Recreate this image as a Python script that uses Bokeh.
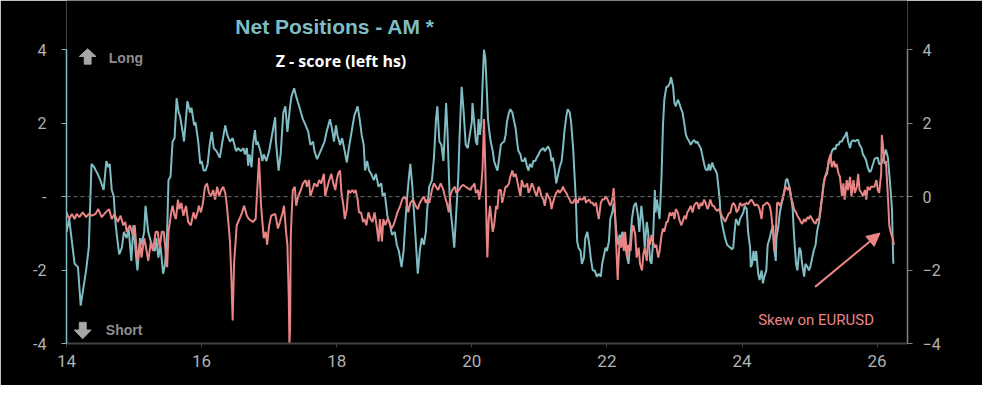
from bokeh.plotting import figure
from bokeh.models import Range1d, LinearAxis, FixedTicker, Span, Label, Arrow, NormalHead
from bokeh.embed import file_html
from bokeh.resources import INLINE

# ---------------- data ----------------
am_years = [14.00,14.04,14.12,14.17,14.21,14.29,14.33,14.37,14.41,14.46,14.50,14.55,14.59,14.62,14.64,14.67,14.70,14.72,14.75,14.78,14.82,14.85,14.89,14.92,14.96,14.99,15.04,15.05,15.09,15.11,15.15,15.17,15.21,15.26,15.31,15.33,15.36,15.39,15.43,15.46,15.49,15.51,15.54,15.57,15.60,15.63,15.66,15.68,15.72,15.74,15.79,15.83,15.85,15.89,15.91,15.95,15.98,16.00,16.03,16.06,16.09,16.12,16.15,16.18,16.22,16.27,16.30,16.35,16.38,16.42,16.46,16.51,16.54,16.58,16.62,16.64,16.67,16.69,16.71,16.74,16.76,16.79,16.81,16.83,16.87,16.90,16.92,16.96,17.00,17.05,17.09,
            17.10,17.14,17.17,17.21,17.24,17.27,17.31,17.33,17.37,17.40,17.43,17.47,17.50,17.54,17.58,17.61,17.65,17.67,17.71,17.74,17.78,17.82,17.85,17.90,17.93,17.96,17.99,18.01,18.05,18.08,18.11,18.15,18.18,18.22,18.26,18.31,18.34,18.37,18.40,18.42,18.45,18.48,18.51,18.55,18.58,18.62,18.66,18.68,18.71,18.75,18.79,18.82,18.86,18.89,18.92,18.96,18.99,19.01,19.04,19.07,19.09,19.12,19.15,19.18,19.20,19.23,19.26,19.29,19.32,19.34,19.37,19.41,19.44,19.47,19.49,19.52,19.55,19.58,19.62,19.64,19.67,19.69,19.71,19.74,19.77,19.80,19.82,19.85,19.88,19.91,19.94,19.97,20.00,
            20.01,20.04,20.06,20.08,20.10,20.12,20.14,20.16,20.18,20.20,20.22,20.24,20.26,20.28,20.31,20.33,20.36,20.38,20.40,20.43,20.45,20.48,20.50,20.52,20.55,20.57,20.60,20.62,20.65,20.67,20.69,20.72,20.74,20.77,20.79,20.82,20.84,20.86,20.89,20.91,20.94,20.96,20.99,21.01,21.03,21.06,21.08,21.11,21.13,21.16,21.18,21.20,21.23,21.25,21.28,21.30,21.33,21.35,21.37,21.40,21.42,21.45,21.47,21.50,21.52,21.54,21.56,21.58,21.61,21.63,21.66,21.68,21.71,21.74,21.76,21.79,21.82,21.85,21.88,21.91,21.93,21.96,21.98,22.00,22.03,22.05,22.08,22.10,22.12,22.14,22.16,22.19,22.21,22.23,22.25,22.27,22.30,22.32,22.35,22.37,22.40,22.43,22.46,22.48,22.51,22.54,22.56,22.59,22.61,22.64,22.66,22.68,22.71,22.72,22.74,22.76,22.78,22.81,22.83,22.85,22.88,22.90,22.93,22.95,22.98,23.00,23.02,23.05,23.07,23.10,
            23.12,23.15,23.17,23.19,23.22,23.24,23.27,23.29,23.32,23.34,23.36,23.39,23.41,23.44,23.46,23.49,23.51,23.53,23.56,23.58,23.61,23.63,23.65,23.67,23.68,23.70,23.73,23.75,23.78,23.80,23.83,23.85,23.87,23.89,23.91,23.93,23.95,23.97,23.995,24.02,24.04,24.07,24.09,24.12,24.13,24.15,24.17,24.19,24.21,24.24,24.26,24.29,24.31,24.33,24.36,24.38,24.41,24.43,24.46,24.48,24.50,24.51,24.54,24.56,24.58,24.60,24.63,24.65,24.67,24.70,24.72,24.75,24.77,24.80,24.82,24.85,24.87,24.89,24.92,24.94,24.97,24.99,25.01,25.04,25.06,25.09,25.11,25.14,25.16,25.19,25.21,25.23,25.26,25.28,25.31,25.33,25.36,25.38,25.40,25.43,25.45,25.48,25.50,25.52,25.55,25.57,25.60,25.62,25.65,25.67,25.70,25.72,25.74,25.77,25.79,25.82,25.84,25.86,25.89,25.91,25.94,25.96,25.99,26.01,26.03,26.06,26.08,26.11,26.13,26.16,26.18,26.20,26.22,26.23,26.24]
am_z = [-0.96,-0.61,-1.83,-1.92,-2.97,-2.01,-1.39,0.89,0.80,0.62,0.45,0.18,0.97,0.80,0.89,0.18,0.01,-0.61,-1.13,-1.57,-1.39,-0.96,-1.13,-0.87,-1.75,-0.78,-1.83,-2.01,-1.13,-1.31,-0.96,-0.25,-0.96,-1.31,-1.48,-1.13,-1.66,-1.31,-2.10,-1.83,-0.96,0.45,0.54,1.50,1.59,2.68,2.29,2.20,1.76,1.50,2.60,2.29,2.42,1.94,2.03,1.50,0.89,0.97,0.71,0.71,0.89,1.41,1.76,1.32,1.24,1.06,1.41,1.94,1.68,1.50,1.59,1.24,1.32,1.24,1.32,1.15,1.32,0.84,1.15,0.80,1.41,1.81,1.41,1.50,1.24,0.97,1.15,0.97,1.24,1.76,2.16,
        1.50,0.71,1.15,2.29,2.46,1.76,2.46,2.73,2.95,2.73,2.55,2.29,2.11,1.94,1.76,1.41,1.50,1.24,1.02,1.15,1.32,1.50,1.76,2.11,1.85,1.50,1.94,1.68,1.41,1.59,1.32,0.93,1.32,1.76,2.20,2.46,2.11,1.68,1.41,0.71,0.97,0.71,0.62,0.45,0.62,0.27,0.36,0.01,0.10,-0.52,-0.78,-1.04,-0.96,-1.31,-1.48,-1.92,-1.48,-0.87,-0.08,0.54,0.89,0.27,-0.61,-1.48,-2.10,-1.48,-1.13,-1.31,-0.96,-0.34,0.27,0.45,1.06,2.11,2.46,1.50,1.41,0.97,2.55,1.76,0.10,-0.43,-0.78,-1.39,-0.43,0.54,1.68,2.99,2.29,1.41,1.32,1.68,2.03,
        2.55,1.94,1.50,1.41,2.11,1.68,2.03,3.08,4.00,3.78,2.99,2.11,1.76,1.50,1.24,0.97,0.80,0.71,0.97,1.41,1.46,1.50,1.68,2.03,2.29,2.38,2.29,2.11,1.85,1.50,1.24,1.15,0.97,0.97,1.06,0.80,0.71,0.89,0.80,0.97,0.97,1.06,1.15,1.24,1.28,1.32,1.24,1.32,1.37,1.24,0.97,1.06,0.71,0.36,0.62,0.80,0.97,1.32,1.76,2.20,2.38,2.29,2.03,1.32,0.62,-0.08,-1.22,-1.39,-1.48,-1.83,-1.66,-1.13,-0.96,-1.31,-1.66,-2.01,-2.01,-2.18,-2.10,-2.18,-1.83,-1.57,-1.39,-1.48,-1.22,-0.61,-0.43,-0.17,-0.52,-0.96,-1.31,-1.04,-1.13,-0.96,-1.04,-1.31,-1.66,-1.83,-1.13,-0.61,-0.25,-0.17,-0.52,-0.96,-0.25,-0.78,-1.39,-0.69,-0.96,-1.75,-1.83,-1.31,0.18,-0.43,-0.08,-0.34,-0.61,0.62,1.94,2.64,2.99,2.99,3.08,3.25,2.99,2.55,2.46,2.64,2.55,2.38,
        2.29,1.94,1.68,1.59,1.50,1.41,1.50,1.54,1.46,1.50,1.41,1.32,1.15,0.89,0.75,0.71,0.89,0.71,0.93,0.80,0.71,0.62,0.27,-0.08,-0.43,-0.69,-0.96,-1.13,-1.31,-1.35,-1.39,-1.44,-1.39,-0.96,-0.61,-0.69,-0.78,-0.61,-0.52,-0.43,-0.25,-0.34,-0.96,-1.39,-1.92,-1.83,-1.48,-1.75,-1.48,-2.10,-2.27,-2.01,-2.36,-2.18,-2.01,-1.31,-1.13,-0.96,-0.78,-1.48,-1.75,-1.13,-0.78,-0.43,-0.25,-0.08,0.18,0.45,0.49,0.27,0.10,-0.34,-1.04,-1.83,-2.01,-1.39,-1.48,-1.83,-2.18,-1.83,-1.92,-2.01,-1.92,-1.66,-1.48,-1.31,-0.96,-0.69,-0.43,0.10,0.36,0.54,0.71,0.89,1.06,1.24,1.32,1.28,1.41,1.41,1.50,1.50,1.59,1.63,1.76,1.50,1.32,1.50,1.54,1.50,1.54,1.54,1.41,1.32,1.15,1.06,0.97,0.80,0.67,0.71,0.89,1.02,1.06,1.06,0.89,0.89,0.97,1.15,1.28,1.06,0.62,0.18,-0.34,-1.13,-1.83]

skew_years = [14.00,14.04,14.08,14.12,14.15,14.19,14.24,14.29,14.33,14.38,14.43,14.47,14.52,14.58,14.63,14.67,14.71,14.76,14.80,14.84,14.87,14.89,14.94,14.98,15.01,15.05,15.09,15.11,15.15,15.17,15.21,15.25,15.28,15.32,15.35,15.38,15.41,15.44,15.49,15.51,15.55,15.57,15.60,15.62,15.65,15.67,15.70,15.73,15.77,15.80,15.84,15.88,15.91,15.94,15.96,15.99,16.02,16.05,16.08,16.11,16.14,16.17,16.20,16.23,16.26,16.29,16.32,16.35,16.37,16.40,16.42,16.44,16.46,16.48,16.52,16.56,16.60,16.63,16.67,16.70,16.76,16.80,16.85,16.88,16.92,16.95,16.97,17.00,17.03,17.09,
              17.13,17.16,17.20,17.22,17.25,17.27,17.29,17.30,17.31,17.32,17.33,17.35,17.38,17.40,17.43,17.47,17.50,17.54,17.56,17.59,17.61,17.64,17.67,17.71,17.74,17.77,17.81,17.83,17.85,17.89,17.92,17.95,17.98,18.00,18.02,18.05,18.07,18.10,18.12,18.15,18.17,18.20,18.23,18.26,18.28,18.31,18.33,18.36,18.39,18.41,18.44,18.47,18.50,18.53,18.56,18.59,18.62,18.64,18.67,18.69,18.72,18.75,18.78,18.81,18.84,18.87,18.90,18.94,18.97,19.00,19.03,19.06,19.09,19.13,19.17,19.20,19.23,19.26,19.29,19.32,19.34,19.37,19.41,19.44,19.47,19.50,19.54,19.58,19.60,19.63,19.66,19.68,19.71,19.75,19.77,19.81,19.84,19.87,19.91,19.94,19.98,20.00,
              20.01,20.04,20.06,20.09,20.11,20.14,20.16,20.18,20.20,20.22,20.23,20.25,20.27,20.29,20.31,20.33,20.36,20.38,20.40,20.43,20.45,20.48,20.50,20.52,20.55,20.57,20.60,20.62,20.65,20.67,20.69,20.72,20.74,20.77,20.79,20.82,20.84,20.86,20.89,20.91,20.94,20.96,20.99,21.01,21.03,21.06,21.08,21.11,21.13,21.16,21.18,21.20,21.23,21.25,21.28,21.30,21.33,21.35,21.37,21.40,21.42,21.45,21.47,21.50,21.52,21.54,21.57,21.59,21.62,21.64,21.67,21.69,21.71,21.74,21.76,21.79,21.81,21.84,21.86,21.88,21.91,21.93,21.96,21.98,22.01,22.03,22.05,22.08,22.10,22.12,22.14,22.16,22.17,22.19,22.21,22.23,22.25,22.27,22.30,22.32,22.35,22.37,22.39,22.42,22.44,22.47,22.49,22.52,22.54,22.56,22.59,22.61,22.64,22.66,22.68,22.71,22.73,22.76,22.78,22.81,22.83,22.85,22.88,22.90,22.93,22.95,22.98,23.00,23.02,23.05,23.07,23.10,
              23.12,23.15,23.17,23.19,23.22,23.24,23.27,23.29,23.32,23.34,23.36,23.39,23.41,23.44,23.46,23.49,23.51,23.53,23.56,23.58,23.61,23.63,23.66,23.68,23.70,23.73,23.75,23.78,23.80,23.83,23.85,23.87,23.90,23.92,23.95,23.97,24.00,24.02,24.04,24.07,24.09,24.12,24.14,24.17,24.19,24.21,24.24,24.26,24.28,24.29,24.31,24.34,24.36,24.38,24.41,24.43,24.46,24.47,24.48,24.50,24.52,24.54,24.56,24.58,24.60,24.63,24.65,24.68,24.70,24.72,24.75,24.77,24.80,24.82,24.85,24.87,24.89,24.92,24.94,24.97,24.99,25.01,25.04,25.06,25.09,25.11,25.14,25.16,25.19,25.21,25.23,25.26,25.28,25.31,25.33,25.36,25.38,25.40,25.43,25.45,25.48,25.50,25.52,25.55,25.57,25.60,25.62,25.65,25.67,25.70,25.72,25.74,25.77,25.79,25.82,25.84,25.86,25.89,25.91,25.94,25.96,25.99,26.01,26.03,26.06,26.07,26.09,26.11,26.13,26.16,26.18,26.20,26.23,26.25]
skew_z = [-0.43,-0.61,-0.47,-0.61,-0.47,-0.56,-0.43,-0.56,-0.47,-0.52,-0.47,-0.34,-0.56,-0.43,-0.34,-0.61,-0.47,-0.69,-0.52,-0.78,-0.69,-0.96,-0.78,-1.04,-0.78,-1.75,-1.22,-1.66,-1.13,-1.31,-1.75,-1.22,-1.48,-0.96,-0.96,-1.39,-0.96,-0.96,-1.92,-0.96,-0.43,-0.25,-0.52,-0.61,-0.08,-0.34,-0.17,-0.52,-0.25,-0.69,-0.78,-0.43,-0.61,-0.43,-0.25,-0.43,-0.17,0.27,0.36,0.10,0.01,0.18,-0.08,0.27,0.01,0.18,0.27,0.10,-0.17,-0.78,-1.22,-2.18,-3.37,-1.83,-0.78,-0.61,-0.43,-0.25,-0.52,-0.61,-0.69,-0.61,1.06,-0.25,-1.13,-0.96,-1.31,-0.78,-0.52,-0.47,
          -0.87,-0.69,-0.43,-0.25,-0.96,-1.31,-2.71,-4.00,-3.59,-1.13,-0.61,0.18,0.27,-0.25,0.01,0.18,0.36,0.45,0.27,0.45,0.01,0.18,0.36,0.27,0.45,0.36,0.62,0.01,0.18,0.45,0.62,0.36,0.18,0.45,0.62,0.71,0.10,-0.25,-0.61,-0.34,0.18,0.10,0.18,0.10,0.18,-0.08,-0.43,-0.43,-0.69,-0.61,-0.78,-0.43,-0.61,-0.69,-0.43,-0.78,-1.22,-0.61,-1.22,-0.61,-0.78,-0.61,-0.69,-0.87,-0.78,-0.61,-0.43,-0.25,-0.08,0.01,-0.08,-0.43,-0.17,-0.08,-0.25,-0.34,-0.17,-0.08,0.01,-0.17,-0.08,-0.17,0.18,0.36,0.27,0.18,0.36,0.18,0.01,-0.17,-0.43,0.01,0.18,0.27,0.10,0.18,0.27,0.32,0.27,0.23,0.18,0.27,
          0.27,0.36,0.10,0.18,-0.08,0.27,0.80,2.11,0.80,-0.96,-1.66,-0.61,-0.25,-0.61,-0.96,-0.78,-0.25,-0.34,0.18,0.18,-0.17,0.10,0.27,0.27,0.36,0.54,0.71,0.54,0.62,0.45,0.27,0.01,0.45,0.27,0.27,0.36,0.10,0.18,0.36,0.27,0.10,0.01,0.27,0.18,0.01,-0.08,-0.25,0.10,0.01,-0.08,-0.34,-0.17,0.01,0.10,0.18,0.10,0.18,0.27,0.18,0.10,0.01,-0.08,-0.17,-0.17,-0.08,-0.08,-0.17,-0.04,-0.08,-0.08,0.01,-0.17,-0.12,-0.08,-0.17,-0.17,-0.25,-0.17,-0.43,-0.61,-0.17,-0.08,-0.08,0.01,-0.08,-0.17,-0.25,-0.08,0.23,-0.43,-1.39,-2.27,-1.83,-1.13,-1.39,-1.04,-1.48,-0.96,-1.66,-1.31,-1.48,-0.96,-0.78,-1.04,-1.66,-1.39,-1.83,-2.01,-1.57,-1.39,-1.75,-1.13,-1.31,-1.04,-1.22,-1.39,-1.31,-1.66,-1.48,-1.04,-0.87,-0.96,-0.69,-0.69,-0.43,-0.52,-0.43,-0.61,-0.34,-0.43,-0.61,-0.78,
          -0.69,-0.52,-0.61,-0.43,-0.34,-0.25,-0.43,-0.25,-0.17,-0.17,-0.34,-0.17,-0.25,-0.08,-0.17,-0.34,-0.25,-0.08,-0.25,-0.25,-0.34,-0.39,-0.34,-0.43,-0.52,-0.61,-0.69,-0.56,-0.47,-0.43,-0.25,-0.17,-0.25,-0.43,-0.34,-0.17,-0.25,-0.21,-0.21,-0.17,-0.21,-0.12,-0.08,-0.17,-0.25,-0.21,-0.25,-0.34,-0.52,-0.61,-0.25,-0.21,-0.17,-0.17,-0.25,-0.43,-0.96,-1.31,-1.48,-0.96,-0.17,-0.17,-0.25,-0.17,-0.08,0.18,0.27,0.18,0.27,0.01,-0.17,-0.34,-0.43,-0.52,-0.61,-0.69,-0.74,-0.61,-0.69,-0.56,-0.61,-0.52,-0.61,-0.69,-0.74,-0.61,-0.65,-0.34,0.01,0.36,0.54,0.62,0.97,1.15,0.80,0.97,0.80,0.89,0.62,0.54,0.01,0.36,-0.08,0.45,0.18,0.54,0.01,0.45,0.10,0.27,0.62,0.18,0.10,0.01,0.18,-0.08,0.27,0.18,0.27,0.27,0.27,0.45,0.18,0.10,0.62,1.68,1.32,0.89,0.97,0.01,-0.78,-0.96,-1.13,-1.31]

y_ticks = [-4, -2, 0, 2, 4]
x_ticks = [14, 16, 18, 20, 22, 24, 26]
left_labels = {-4: "-4", -2: "-2", 0: "-", 2: "2", 4: "4"}

TEAL = "#7fbcc3"
PINK = "#e98585"
TICK_TXT = "#b0b2b4"

# frame extends to the top of the canvas so the headings can sit inside it;
# the axis lines are bounded to the -4..4 scale
W, H = 982, 385
FRAME_L, FRAME_R, FRAME_B = 66, 75, 42
UNIT_PX = 36.72
Y_TOP = -4 + (H - FRAME_B) / UNIT_PX

p = figure(width=W, height=H, x_range=Range1d(14, 26.45), y_range=Range1d(-4, Y_TOP),
           output_backend="svg", toolbar_location=None,
           background_fill_color="black", border_fill_color="black",
           min_border_left=FRAME_L, min_border_right=FRAME_R, min_border_top=0,
           min_border_bottom=FRAME_B)
p.outline_line_color = None
p.grid.visible = False

# bottom axis
xa = p.xaxis[0]
xa.ticker = FixedTicker(ticks=x_ticks)
xa.axis_line_color = "#404040"
xa.axis_line_width = 2
xa.major_tick_line_color = "#404040"
xa.major_tick_out = 4
xa.major_tick_in = 0
xa.minor_tick_line_color = None
xa.major_label_text_color = TICK_TXT
xa.major_label_text_font = "Roboto"
xa.major_label_text_font_size = "17px"
xa.major_label_standoff = 7

# left axis
ya = p.yaxis[0]
ya.ticker = FixedTicker(ticks=y_ticks)
ya.bounds = (-4, 4)
ya.major_label_overrides = left_labels
ya.axis_line_color = TEAL
ya.axis_line_width = 1.5
ya.major_tick_line_color = TEAL
ya.major_tick_out = 5
ya.major_tick_in = 0
ya.minor_tick_line_color = None
ya.major_label_text_color = TICK_TXT
ya.major_label_text_font = "Roboto"
ya.major_label_text_font_size = "16px"
ya.major_label_standoff = 15

# right axis
ra = LinearAxis(ticker=FixedTicker(ticks=y_ticks), bounds=(-4, 4))
ra.axis_line_color = "#808080"
ra.axis_line_width = 1.5
ra.major_tick_line_color = "#808080"
ra.major_tick_out = 5
ra.major_tick_in = 0
ra.minor_tick_line_color = None
ra.major_label_text_color = TICK_TXT
ra.major_label_text_font = "Roboto"
ra.major_label_text_font_size = "16px"
ra.major_label_standoff = 10
p.add_layout(ra, "right")

# zero line
p.add_layout(Span(location=0, dimension="width", line_color="#6a6a6a", line_dash="4 3", line_width=1))

# series
p.line(am_years, am_z, line_color=TEAL, line_width=2)
p.line(skew_years, skew_z, line_color=PINK, line_width=2)

# ---------------- annotations ----------------
def px2d(px, py):
    # position measured on the reference picture -> data units
    return 14 + (px - 67) / 68.67, (204 - py) / 38.25

def poly(pts):
    xs, ys = zip(*[px2d(a, b) for a, b in pts])
    return list(xs), list(ys)

ux, uy = poly([(85, 66), (85, 58), (80, 58), (88.5, 50), (97, 58), (92, 58), (92, 66)])
p.patch(ux, uy, fill_color="#a6a6a6", line_color="#a6a6a6", line_width=1)
dx, dy = poly([(80, 335), (87, 335), (87, 343), (92, 343), (83.5, 352), (75, 343), (80, 343)])
p.patch(dx, dy, fill_color="#a6a6a6", line_color="#a6a6a6", line_width=1)

def add_text(px, py, txt, color, size, font, style="normal", align="left"):
    x, y = px2d(px, py)
    p.add_layout(Label(x=x, y=y, text=txt, text_color=color, text_font_size=size,
                       text_font=font, text_font_style=style, text_align=align,
                       text_baseline="middle"))

add_text(340, 27, "Net Positions - AM *", TEAL, "21px", "Liberation Sans", "bold", "center")
add_text(346, 63, "Z - score (left hs)", "white", "16px", "Open Sans", "bold", "center")
add_text(110, 60, "Long", "#8e8e8e", "14px", "Liberation Sans", "bold")
add_text(107, 343, "Short", "#8e8e8e", "14px", "Liberation Sans", "bold")
add_text(829, 333, "Skew on EURUSD", PINK, "15px", "Roboto", "normal", "center")

ax0, ay0 = px2d(828, 298)
ax1, ay1 = px2d(894, 242)
p.add_layout(Arrow(x_start=ax0, y_start=ay0, x_end=ax1, y_end=ay1, line_color=PINK, line_width=2,
                   end=NormalHead(size=13, fill_color=PINK, line_color=PINK)))

open("out.html", "w").write(file_html(p, INLINE))
